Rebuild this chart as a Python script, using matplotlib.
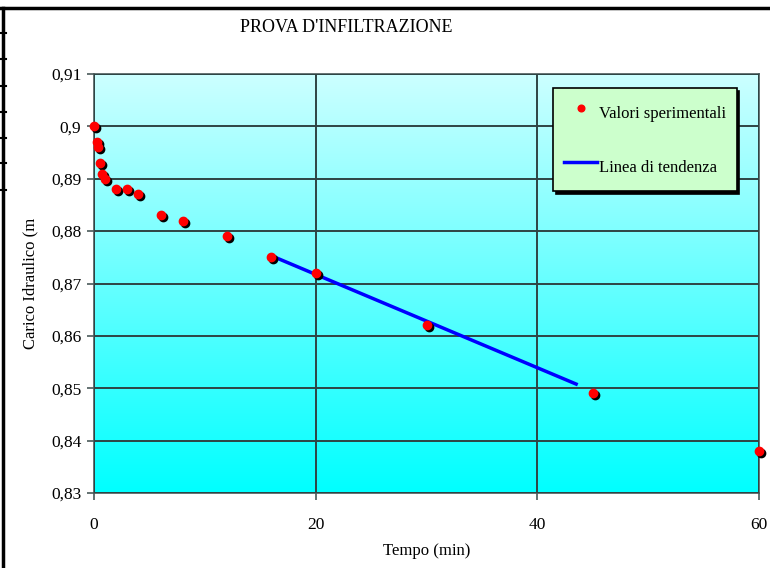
import numpy as np
import matplotlib
matplotlib.use("Agg")
import matplotlib.pyplot as plt
from matplotlib.lines import Line2D
from matplotlib.ticker import FuncFormatter
import matplotlib.transforms as mtransforms

# experimental data
tempo = [0, 0.25, 0.33, 0.5, 0.75, 1, 2, 3, 4, 6, 8, 12, 16, 20, 30, 45, 60]
carico = [0.900, 0.897, 0.896, 0.893, 0.891, 0.890, 0.888, 0.888, 0.887,
          0.883, 0.882, 0.879, 0.875, 0.872, 0.862, 0.849, 0.838]

# trend line endpoints
trend_t = [16, 43.5]
trend_h = [0.8753, 0.8508]

plt.rcParams["font.family"] = ["Liberation Serif", "DejaVu Serif"]
plt.rcParams["font.size"] = 12

fig = plt.figure(figsize=(7.7, 5.68), dpi=100)
ax = fig.add_axes([94 / 770, 1 - 493 / 568, 665 / 770, 419 / 568])

# cyan gradient background
grad = np.linspace(0, 1, 256).reshape(-1, 1)
top = np.array([0.80, 1.0, 1.0])
bot = np.array([0.0, 1.0, 1.0])
img = bot + (top - bot) * grad
ax.imshow(img[:, None, :].repeat(2, axis=1), extent=[0, 1, 0, 1],
          transform=ax.transAxes, aspect="auto", origin="lower", zorder=0)

ax.set_xlim(0, 60)
ax.set_ylim(0.83, 0.91)
ax.set_xticks([0, 20, 40, 60])
ax.set_yticks(np.round(np.arange(0.83, 0.9101, 0.01), 2))
ax.yaxis.set_major_formatter(
    FuncFormatter(lambda v, p: f"{round(v, 2):g}".replace(".", ",")))
ax.grid(True, color="#2e4444", linewidth=1.4, zorder=1)
ax.set_axisbelow(False)
for s in ax.spines.values():
    s.set_color("#4a5a5a")
    s.set_linewidth(1.2)
ax.tick_params(direction="out", length=5, color="#4a5a5a", width=1.2,
               labelsize=12.5, pad=4)
ax.tick_params(axis="x", pad=12)

# trend line
ax.plot(trend_t, trend_h, color="#0000ff", linewidth=2.5, zorder=3,
        label="Linea di tendenza")

# points with black shadow
shadow = mtransforms.offset_copy(ax.transData, fig=fig, x=2, y=-2, units="dots")
ax.plot(tempo, carico, "o", color="black", markersize=6, transform=shadow,
        zorder=4, clip_on=False)
pts, = ax.plot(tempo, carico, "o", color="#ff0000", markersize=6, zorder=5,
               clip_on=False, label="Valori sperimentali")

handles, labels = ax.get_legend_handles_labels()
leg = ax.legend(handles[::-1], labels[::-1], loc="upper left",
                bbox_to_anchor=(553 / 770, 1 - 88 / 568),
                bbox_transform=fig.transFigure, borderaxespad=0,
                fancybox=False, framealpha=1, facecolor="#ccffcc",
                edgecolor="black", borderpad=0.65, handleheight=2.2,
                labelspacing=1.55, handlelength=2.0, handletextpad=0.1,
                markerscale=0.8,
                shadow={"color": "black", "alpha": 1}, fontsize=12)
leg.get_frame().set_linewidth(1.2)

fig.text(346 / 770, 1 - 27 / 568, "PROVA D'INFILTRAZIONE", ha="center",
         va="center", fontsize=13)
fig.text(427 / 770, 1 - 551 / 568, "Tempo (min)", ha="center", va="center",
         fontsize=12)
fig.text(30 / 770, 1 - 283 / 568, "Carico Idraulico (m", ha="center",
         va="center", rotation=90, fontsize=12)

# sheet border lines
fig.add_artist(Line2D([0, 1], [1 - 8 / 568] * 2, color="black", linewidth=2.5))
fig.add_artist(Line2D([3 / 770] * 2, [0, 1 - 8 / 568], color="black",
                      linewidth=2.5))
for yy in [33, 59, 86, 112, 138, 163, 190]:
    fig.add_artist(Line2D([0, 6 / 770], [1 - yy / 568] * 2, color="black",
                          linewidth=1.5))

fig.savefig("out.png", dpi=100)
